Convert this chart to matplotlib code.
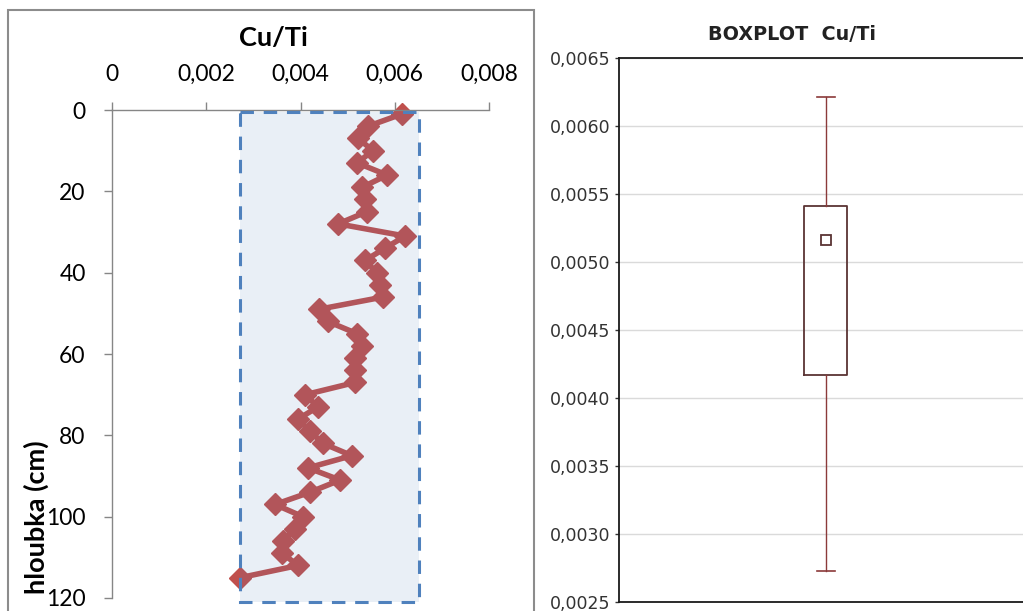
import matplotlib
matplotlib.use("Agg")
import matplotlib.pyplot as plt
from matplotlib.patches import Rectangle
from matplotlib.ticker import FuncFormatter

# ---------------- data ----------------
depth_cm = [1, 4, 7, 10, 13, 16, 19, 22, 25, 28, 31, 34, 37, 40, 43, 46, 49, 52,
            55, 58, 61, 64, 67, 70, 73, 76, 79, 82, 85, 88, 91, 94, 97, 100, 103,
            106, 109, 112, 115]
cu_ti = [0.00615, 0.00543, 0.00522, 0.00554, 0.00520, 0.00584, 0.00531, 0.00537,
         0.00541, 0.00480, 0.00622, 0.00579, 0.00537, 0.00562, 0.00569, 0.00575,
         0.00439, 0.00458, 0.00520, 0.00531, 0.00516, 0.00516, 0.00516, 0.00410,
         0.00437, 0.00395, 0.00420, 0.00448, 0.00509, 0.00416, 0.00484, 0.00420,
         0.00346, 0.00405, 0.00388, 0.00363, 0.00361, 0.00395, 0.00272]

x_ticks = [0, 0.002, 0.004, 0.006, 0.008]
x_tick_labels = ["0", "0,002", "0,004", "0,006", "0,008"]
y_ticks = [0, 20, 40, 60, 80, 100, 120]

# highlighted range (dashed box)
range_x = [0.00272, 0.00651]
range_depth = [0.6, 120.9]

# boxplot statistics (min, q1, median, q3, max)
box_min = 0.00273
box_q1 = 0.00417
box_median = 0.00516
box_q3 = 0.00541
box_max = 0.00621
box_y_ticks = [0.0025, 0.0030, 0.0035, 0.0040, 0.0045, 0.0050, 0.0055, 0.0060, 0.0065]

W, H = 1023, 611
fig = plt.figure(figsize=(W / 100, H / 100), dpi=100)

def fx(px):
    return px / W

def fy(py):
    return 1 - py / H

# ---------------- left panel ----------------
gray = "#868686"
red = "#C0504D"
blue = "#4F81BD"
lfont = "Lato"

fig.add_artist(Rectangle((fx(8), -0.05), fx(534) - fx(8), fy(10) + 0.05,
                         transform=fig.transFigure, fill=False,
                         ec="#8c8c8c", lw=1.5))

ax = fig.add_axes([fx(112), fy(598), fx(489) - fx(112), fy(110) - fy(598)])
ax.plot(cu_ti, depth_cm, color=red, lw=4.0, marker="D", markersize=11,
        markerfacecolor=red, markeredgecolor=red, zorder=2, clip_on=False)
ax.add_patch(Rectangle((range_x[0], range_depth[0]), range_x[1] - range_x[0],
                       range_depth[1] - range_depth[0],
                       facecolor=(0.31, 0.506, 0.741, 0.12), edgecolor="none",
                       zorder=3, clip_on=False))
ax.add_patch(Rectangle((range_x[0], range_depth[0]), range_x[1] - range_x[0],
                       range_depth[1] - range_depth[0],
                       fill=False, edgecolor=blue, lw=2.2,
                       linestyle=(0, (4.4, 3.2)), zorder=4, clip_on=False))
ax.set_xlim(0, 0.008)
ax.set_ylim(120, 0)
ax.xaxis.tick_top()
ax.set_xticks(x_ticks)
ax.set_xticklabels(x_tick_labels)
ax.set_yticks(y_ticks)
for s in ["bottom", "right"]:
    ax.spines[s].set_visible(False)
for s in ["top", "left"]:
    ax.spines[s].set_color(gray)
    ax.spines[s].set_linewidth(1.0)
ax.tick_params(axis="x", direction="out", length=6, width=1.0, color=gray,
               pad=12, labelsize=16.5)
ax.tick_params(axis="y", direction="out", length=6, width=1.0, color=gray,
               pad=13, labelsize=16.5)
for lab in ax.get_xticklabels() + ax.get_yticklabels():
    lab.set_fontfamily(lfont)
ax.set_facecolor("none")

fig.text(fx(273), fy(46), "Cu/Ti", ha="center", va="baseline",
         fontsize=19.5, fontweight="bold", family=lfont)
fig.text(fx(36), fy(517), "hloubka (cm)", ha="center", va="center",
         rotation=90, fontsize=19.5, fontweight="bold", family=lfont)

# ---------------- right panel ----------------
bx = fig.add_axes([fx(619), fy(602), 1.0 - fx(619), fy(58) - fy(602)])
box_color = "#5a3434"
whisk_color = "#8B3A3A"
stats = [dict(med=box_median, q1=box_q1, q3=box_q3, whislo=box_min,
              whishi=box_max, mean=box_median, fliers=[])]
bx.bxp(stats, positions=[0.512], widths=0.106, showmeans=True,
       capwidths=[0.045],
       boxprops=dict(color=box_color, lw=1.3),
       whiskerprops=dict(color=whisk_color, lw=1.0),
       capprops=dict(color=whisk_color, lw=1.2),
       medianprops=dict(lw=0),
       meanprops=dict(marker="s", markersize=6.5, markerfacecolor="white",
                      markeredgecolor=box_color, markeredgewidth=1.3),
       manage_ticks=False, zorder=3)
bx.set_xlim(0, 1)
bx.set_ylim(0.0025, 0.0065)
bx.set_yticks(box_y_ticks)
bx.yaxis.set_major_formatter(FuncFormatter(lambda v, p: f"{v:.4f}".replace(".", ",")))
bx.set_xticks([])
bx.grid(axis="y", color="#dadada", lw=1.0, zorder=0)
bx.set_axisbelow(True)
bx.spines["right"].set_visible(False)
for s in ["left", "top", "bottom"]:
    bx.spines[s].set_color("#1a1a1a")
    bx.spines[s].set_linewidth(1.3)
bx.tick_params(axis="y", direction="out", length=3, width=1.0, color="#333333",
               pad=3, labelsize=12.5, labelcolor="#333333")
for lab in bx.get_yticklabels():
    lab.set_fontfamily("DejaVu Sans")

fig.text(fx(792), fy(40), "BOXPLOT  Cu/Ti", ha="center", va="baseline",
         fontsize=13.8, fontweight="bold", family="DejaVu Sans", color="#222222")

fig.savefig("out.png", dpi=100)
